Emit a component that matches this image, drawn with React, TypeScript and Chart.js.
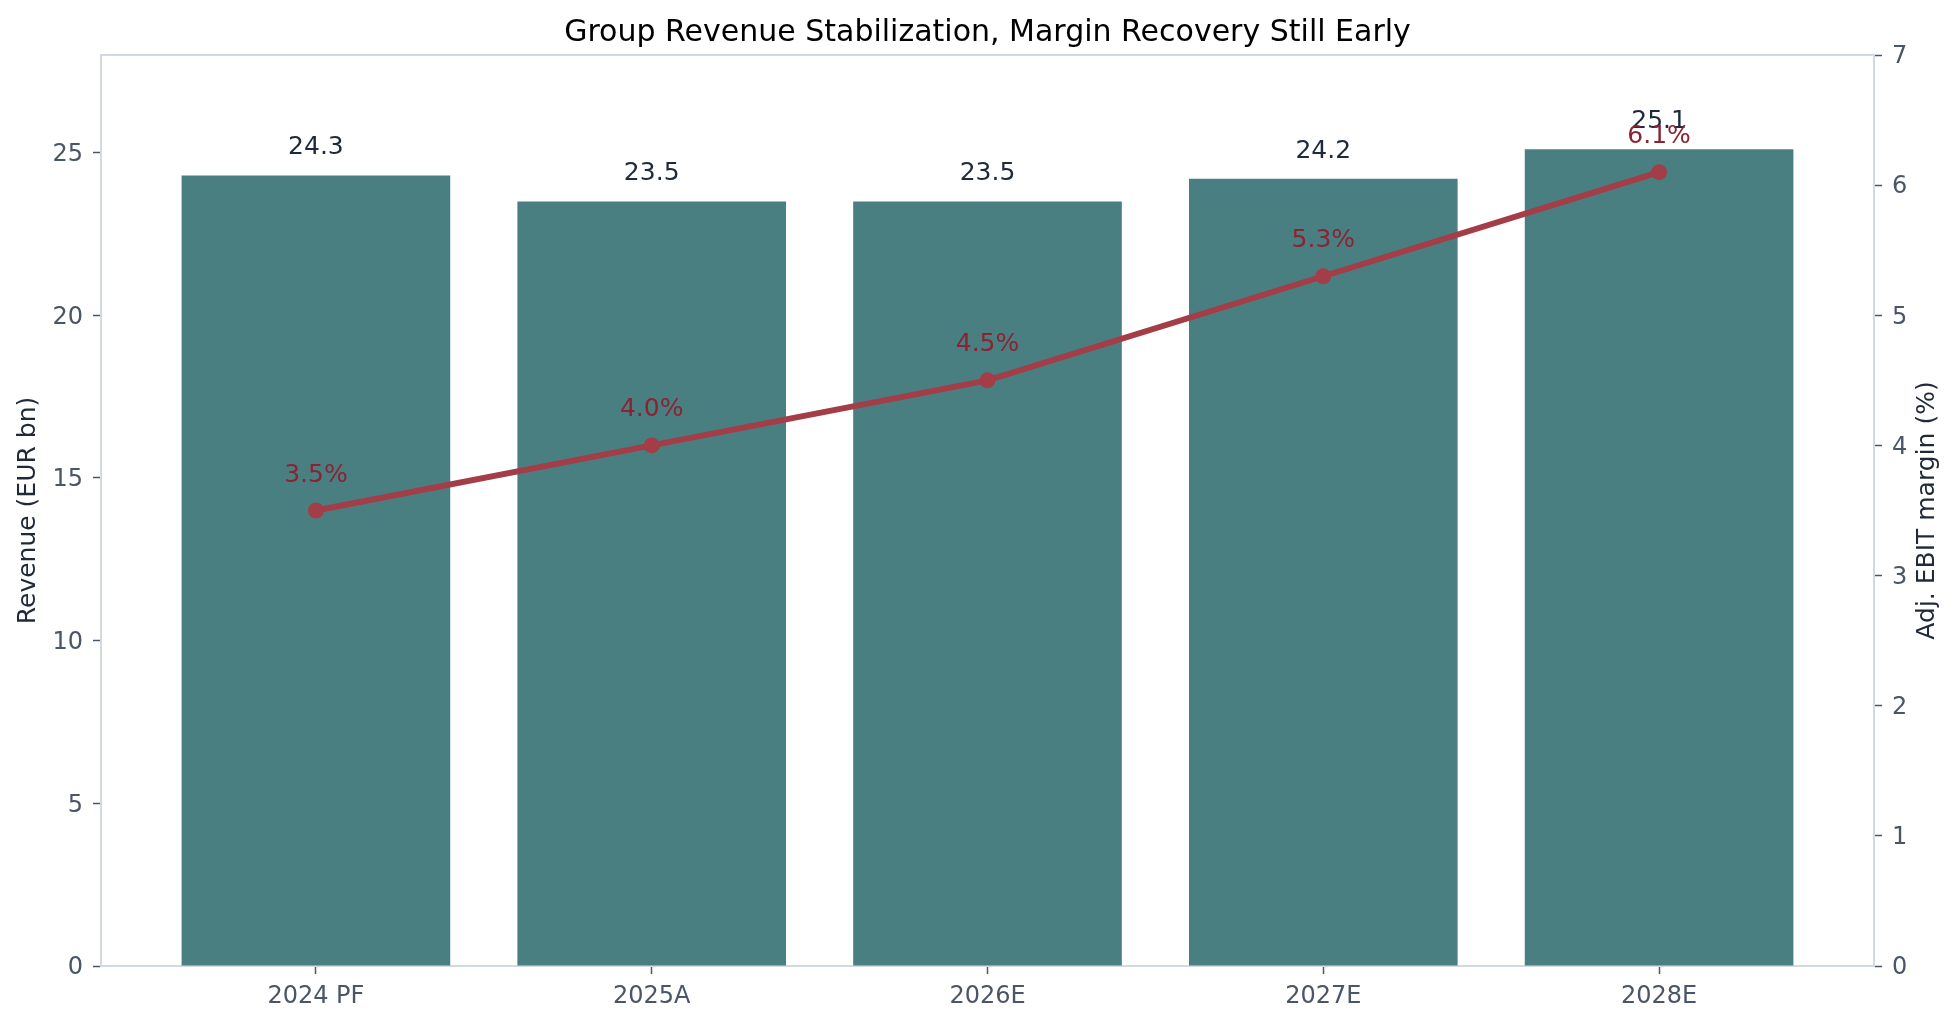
import { useEffect, useRef } from "react";
import { Chart, registerables, type Plugin } from "chart.js";

Chart.register(...registerables);

const FONT = "'DejaVu Sans', sans-serif";

const TITLE = "Group Revenue Stabilization, Margin Recovery Still Early";
const CATEGORIES = ["2024 PF", "2025A", "2026E", "2027E", "2028E"];
const REVENUE = [24.3, 23.5, 23.5, 24.2, 25.1];
const MARGIN = [3.5, 4.0, 4.5, 5.3, 6.1];
const REVENUE_TICKS = [0, 5, 10, 15, 20, 25];
const MARGIN_TICKS = [0, 1, 2, 3, 4, 5, 6, 7];

const BAR_COLOR = "#4a7f82";
const LINE_COLOR = "#a33d48";
const SPINE = "#d3d9e3";
const TICK_TEXT = "#4a5568";
const AXIS_TITLE = "#1f2937";

// value labels: bars first, then the line is drawn on top, then its labels
const labelsPlugin: Plugin<"bar"> = {
  id: "valueLabels",
  afterDatasetDraw(chart, args) {
    const ctx = chart.ctx;
    const meta = args.meta;
    ctx.save();
    ctx.textAlign = "center";
    ctx.textBaseline = "alphabetic";
    ctx.font = `25px ${FONT}`;
    if (meta.type === "bar") {
      ctx.fillStyle = "#1e293b";
      meta.data.forEach((el, i) => {
        ctx.fillText(REVENUE[i].toFixed(1), el.x, el.y - 21);
      });
    } else {
      ctx.fillStyle = "#8b2333";
      meta.data.forEach((el, i) => {
        ctx.fillText(`${MARGIN[i].toFixed(1)}%`, el.x, el.y - 29);
      });
    }
    ctx.restore();
  },
};

// title centred on the plot, top spine, right axis title reading bottom-to-top
const framePlugin: Plugin<"bar"> = {
  id: "frame",
  afterDraw(chart) {
    const { ctx, chartArea } = chart;
    ctx.save();
    ctx.strokeStyle = SPINE;
    ctx.lineWidth = 2;
    ctx.beginPath();
    ctx.moveTo(chartArea.left, chartArea.top);
    ctx.lineTo(chartArea.right, chartArea.top);
    ctx.stroke();

    ctx.textAlign = "center";
    ctx.textBaseline = "alphabetic";
    ctx.font = `30px ${FONT}`;
    ctx.fillStyle = "#000000";
    ctx.fillText(TITLE, (chartArea.left + chartArea.right) / 2, 40.7);

    ctx.translate(1927, (chartArea.top + chartArea.bottom) / 2);
    ctx.rotate(-Math.PI / 2);
    ctx.textBaseline = "middle";
    ctx.font = `25px ${FONT}`;
    ctx.fillStyle = AXIS_TITLE;
    ctx.fillText("Adj. EBIT margin (%)", 0, 0);
    ctx.restore();
  },
};

const tickGrid = {
  display: true,
  drawOnChartArea: false,
  drawTicks: true,
  tickLength: 8,
  tickColor: TICK_TEXT,
  tickWidth: 1.5,
  offset: false,
};

export default function App() {
  const canvasRef = useRef<HTMLCanvasElement>(null);
  const chartRef = useRef<Chart | null>(null);

  useEffect(() => {
    if (!canvasRef.current) return;
    chartRef.current?.destroy();

    chartRef.current = new Chart(canvasRef.current, {
      type: "bar",
      data: {
        datasets: [
          {
            type: "line",
            label: "Adj. EBIT margin (%)",
            data: MARGIN.map((v, i) => ({ x: i, y: v })),
            yAxisID: "y1",
            borderColor: LINE_COLOR,
            backgroundColor: LINE_COLOR,
            borderWidth: 6,
            pointRadius: 8,
            pointBorderWidth: 0,
            pointBackgroundColor: LINE_COLOR,
            tension: 0,
            order: 0,
          } as any,
          {
            type: "bar",
            label: "Revenue (EUR bn)",
            data: REVENUE.map((v, i) => ({ x: i, y: v })),
            yAxisID: "y",
            backgroundColor: BAR_COLOR,
            borderWidth: 0,
            categoryPercentage: 1,
            barPercentage: 0.8,
            order: 1,
          },
        ],
      },
      options: {
        responsive: false,
        devicePixelRatio: 1,
        animation: false,
        layout: { padding: { top: 55, left: 0, right: 0, bottom: 0 } },
        plugins: {
          legend: { display: false },
          tooltip: { enabled: false },
          title: { display: false },
        },
        scales: {
          x: {
            type: "linear",
            min: -0.64,
            max: 4.64,
            offset: false,
            afterFit: (scale) => {
              scale.height = 60;
            },
            afterBuildTicks: (scale) => {
              scale.ticks = CATEGORIES.map((_, i) => ({ value: i }));
            },
            ticks: {
              callback: (v) => CATEGORIES[Number(v)] ?? "",
              color: TICK_TEXT,
              font: { family: FONT, size: 24 },
              padding: 8,
              maxRotation: 0,
              autoSkip: false,
            },
            grid: tickGrid,
            border: { display: true, color: SPINE, width: 2 },
          },
          y: {
            type: "linear",
            position: "left",
            min: 0,
            max: 28.0,
            afterFit: (scale) => {
              scale.width = 101;
            },
            afterBuildTicks: (scale) => {
              scale.ticks = REVENUE_TICKS.map((v) => ({ value: v }));
            },
            ticks: {
              color: TICK_TEXT,
              font: { family: FONT, size: 24 },
              padding: 10,
              labelOffset: 2,
            },
            grid: tickGrid,
            border: { display: true, color: SPINE, width: 2 },
            title: {
              display: true,
              text: "Revenue (EUR bn)",
              color: AXIS_TITLE,
              font: { family: FONT, size: 25 },
              padding: { top: 13.5, bottom: 0 },
            },
          },
          y1: {
            type: "linear",
            position: "right",
            min: 0,
            max: 7,
            afterFit: (scale) => {
              scale.width = 85;
            },
            afterBuildTicks: (scale) => {
              scale.ticks = MARGIN_TICKS.map((v) => ({ value: v }));
            },
            ticks: {
              color: TICK_TEXT,
              font: { family: FONT, size: 24 },
              padding: 10,
              labelOffset: 2,
            },
            grid: tickGrid,
            border: { display: true, color: SPINE, width: 2 },
            title: { display: false },
          },
        },
      },
      plugins: [labelsPlugin, framePlugin],
    });

    return () => {
      chartRef.current?.destroy();
      chartRef.current = null;
    };
  }, []);

  return (
    <div
      style={{
        position: "fixed",
        top: 0,
        left: 0,
        width: 1959,
        height: 1026,
        background: "#ffffff",
      }}
    >
      <canvas ref={canvasRef} width={1959} height={1026} />
    </div>
  );
}
